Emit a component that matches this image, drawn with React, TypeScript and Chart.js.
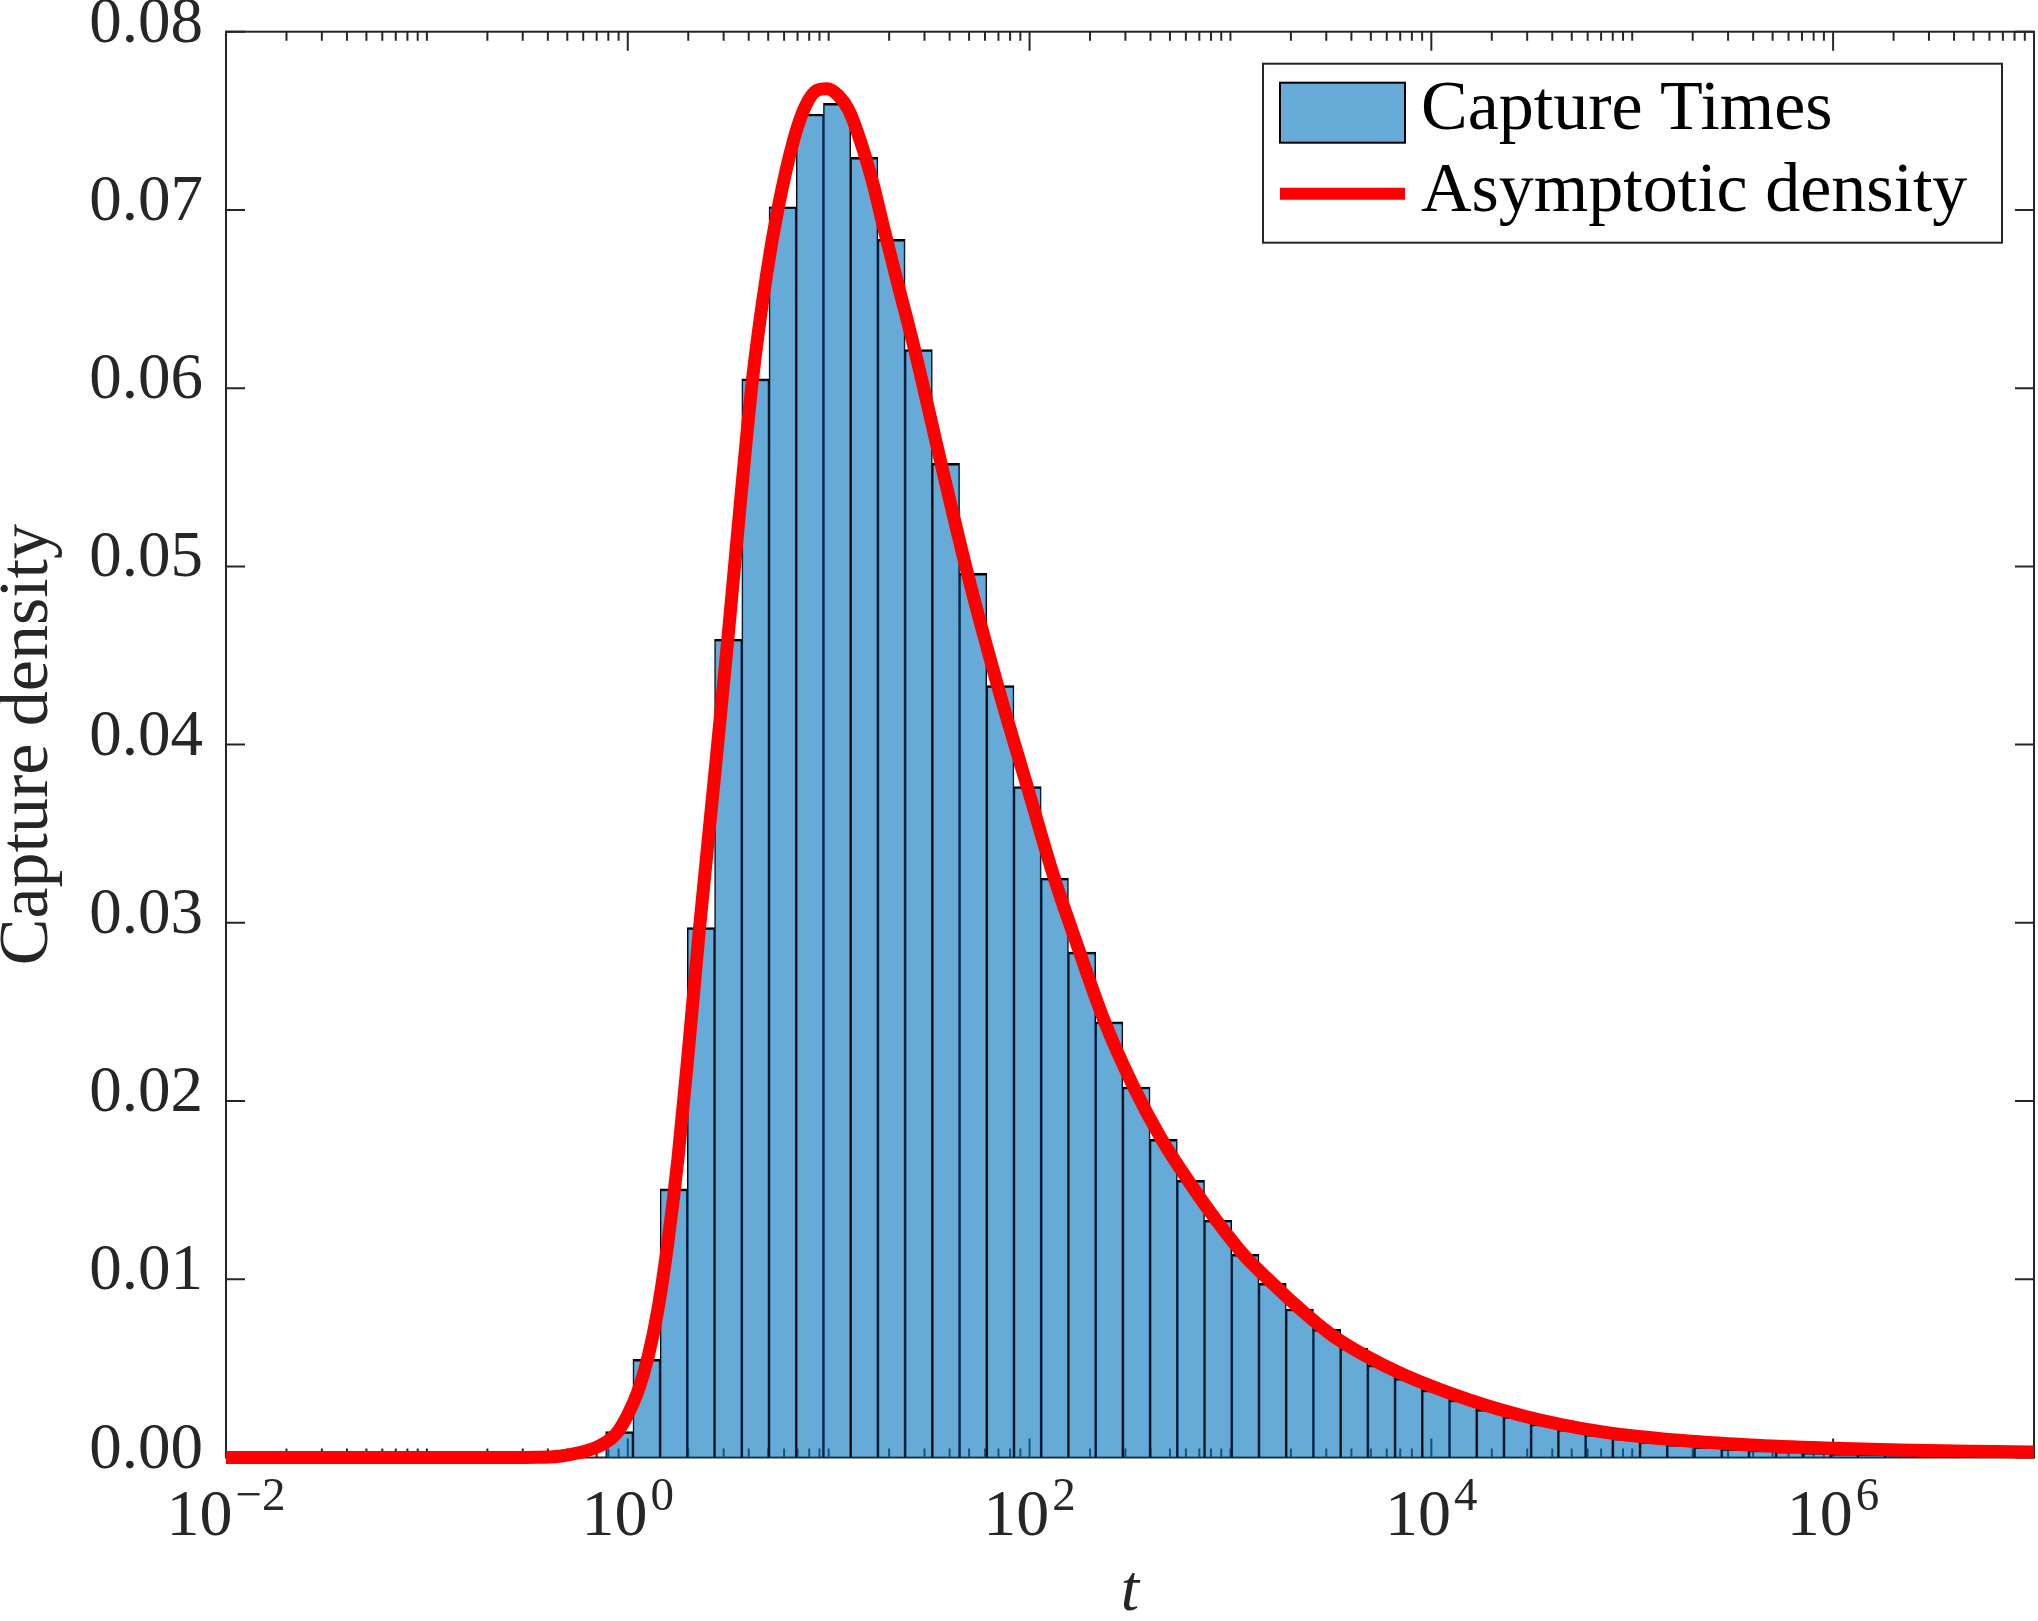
import React, { useEffect, useRef } from "react";
import { Chart, registerables } from "chart.js";

Chart.register(...registerables);

const CANVAS_W = 2038;
const CANVAS_H = 1621;

const seriesLabels = ["Capture Times", "Asymptotic density"];
const xTitle = "t";
const yTitle = "Capture density";

// histogram: log10 of each bin centre, and density of each bin
const binLog10Centers = [
  -0.0423, 0.0933, 0.2288, 0.3643, 0.4998, 0.6353, 0.7708, 0.9063, 1.0418, 1.1773,
  1.3128, 1.4483, 1.5838, 1.7193, 1.8548, 1.9903, 2.1258, 2.2613, 2.3968, 2.5323,
  2.6678, 2.8033, 2.9388, 3.0743, 3.2098, 3.3453, 3.4808, 3.6163, 3.7518, 3.8873,
  4.0228, 4.1583, 4.2938, 4.4293, 4.5648, 4.7003, 4.8358, 4.9713, 5.1068, 5.2423,
  5.3778, 5.5133, 5.6488, 5.7843, 5.9198, 6.0553, 6.1908, 6.3263, 6.4618,
];
const binDensity = [
  0.00145, 0.00551, 0.01507, 0.02973, 0.04591, 0.06052, 0.07018, 0.07538, 0.07598, 0.07295,
  0.06835, 0.06216, 0.05578, 0.04961, 0.04331, 0.03764, 0.0325, 0.02836, 0.02444, 0.02079,
  0.01785, 0.01555, 0.01331, 0.0114, 0.00977, 0.00833, 0.00719, 0.00613, 0.00519, 0.00444,
  0.00379, 0.00323, 0.0027, 0.00229, 0.00188, 0.00158, 0.0013, 0.00108, 0.00089, 0.00074,
  0.00061, 0.0005, 0.00042, 0.00035, 0.00028, 0.00022, 0.00017, 0.00013, 0.0001,
];

// asymptotic density curve: log10(t) and density
const curveLog10T = [
  -2.0, -1.0, -0.6, -0.45, -0.34, -0.25, -0.15, -0.06, 0.0, 0.05,
  0.1, 0.15, 0.2, 0.25, 0.3, 0.357, 0.43, 0.498, 0.56, 0.621,
  0.69, 0.75, 0.825, 0.883, 0.94, 0.991, 1.05, 1.1, 1.16, 1.22,
  1.276, 1.35, 1.427, 1.559, 1.691, 1.841, 2.0, 2.115, 2.248, 2.372,
  2.518, 2.655, 2.792, 2.93, 3.064, 3.216, 3.33, 3.514, 3.813, 4.095,
  4.469, 4.842, 5.216, 5.587, 5.96, 6.333, 6.706, 7.0,
];
const curveDensity = [
  0, 0, 0, 0.00001, 0.00007, 0.00025, 0.0006, 0.0013, 0.0024, 0.0037,
  0.0056, 0.0083, 0.0121, 0.0168, 0.0226, 0.0297, 0.038, 0.0459, 0.0535, 0.0605,
  0.0663, 0.0702, 0.0739, 0.0758, 0.0767, 0.0768, 0.0764, 0.0756, 0.0738, 0.0715,
  0.0689, 0.0656, 0.0622, 0.0558, 0.0496, 0.0433, 0.0372, 0.0328, 0.0284, 0.0245,
  0.0208, 0.0179, 0.0155, 0.0133, 0.0114, 0.0097, 0.0085, 0.0068, 0.0049, 0.0036,
  0.0023, 0.00145, 0.00098, 0.0007, 0.00053, 0.00042, 0.00035, 0.00031,
];

const yTickValues = [0, 0.01, 0.02, 0.03, 0.04, 0.05, 0.06, 0.07, 0.08];
const xTickExponents = [-2, 0, 2, 4, 6];
const xMin = 1e-2;
const xMax = 1e7;
const yMin = 0;
const yMax = 0.08;

const FONT = "'Liberation Serif', 'Times New Roman', serif";
const AXIS_COLOR = "#262626";
const BAR_FILL = "rgba(0,114,189,0.6)";
const BAR_EDGE = "#000000";
const CURVE_COLOR = "#ff0000";
const MAJOR_TICK = 19;
const MINOR_TICK = 9;

const matlabAxes = {
  id: "matlabAxes",
  beforeDatasetsDraw(chart: any) {
    const { ctx, chartArea } = chart;
    const { left, right, top, bottom } = chartArea;
    const xs = chart.scales.x;
    const ys = chart.scales.y;
    ctx.save();
    ctx.strokeStyle = AXIS_COLOR;
    ctx.lineWidth = 2;
    ctx.beginPath();
    const e0 = Math.round(Math.log10(xMin));
    const e1 = Math.round(Math.log10(xMax));
    for (let e = e0; e < e1; e++) {
      for (let m = 1; m <= 9; m++) {
        const v = m * Math.pow(10, e);
        const px = xs.getPixelForValue(v);
        const len = m === 1 && xTickExponents.includes(e) ? MAJOR_TICK : MINOR_TICK;
        ctx.moveTo(px, bottom);
        ctx.lineTo(px, bottom - len);
        ctx.moveTo(px, top);
        ctx.lineTo(px, top + len);
      }
    }
    for (const v of yTickValues) {
      const py = ys.getPixelForValue(v);
      ctx.moveTo(left, py);
      ctx.lineTo(left + MAJOR_TICK, py);
      ctx.moveTo(right, py);
      ctx.lineTo(right - MAJOR_TICK, py);
    }
    ctx.stroke();
    ctx.strokeRect(left, top, right - left, bottom - top);
    ctx.restore();
  },
  afterDraw(chart: any) {
    const { ctx, chartArea } = chart;
    const { right, top, bottom } = chartArea;
    const xs = chart.scales.x;
    ctx.save();
    // x tick labels with superscript exponents
    ctx.fillStyle = AXIS_COLOR;
    ctx.textBaseline = "alphabetic";
    ctx.textAlign = "left";
    for (const e of xTickExponents) {
      const px = xs.getPixelForValue(Math.pow(10, e));
      const base = "10";
      const sup = e < 0 ? "\u2212" + Math.abs(e) : String(e);
      ctx.font = `66px ${FONT}`;
      const wb = ctx.measureText(base).width;
      ctx.font = `47px ${FONT}`;
      const ws = ctx.measureText(sup).width;
      const gap = 3;
      const x0 = px - (wb + gap + ws) / 2;
      ctx.font = `66px ${FONT}`;
      ctx.fillText(base, x0, bottom + 77.5);
      ctx.font = `47px ${FONT}`;
      ctx.fillText(sup, x0 + wb + gap, bottom + 52.5);
    }

    // legend
    const bw = 739;
    const bh = 179;
    const lx = right - 32 - bw;
    const ly = top + 32;
    ctx.fillStyle = "#ffffff";
    ctx.fillRect(lx, ly, bw, bh);
    ctx.strokeStyle = AXIS_COLOR;
    ctx.lineWidth = 2;
    ctx.strokeRect(lx, ly, bw, bh);

    const barDs = chart.data.datasets[0];
    const lineDs = chart.data.datasets[1];
    ctx.fillStyle = barDs.backgroundColor;
    ctx.fillRect(lx + 17, ly + 19, 125, 60);
    ctx.strokeStyle = barDs.borderColor;
    ctx.lineWidth = 2;
    ctx.strokeRect(lx + 17, ly + 19, 125, 60);

    ctx.strokeStyle = lineDs.borderColor;
    ctx.lineWidth = 12;
    ctx.lineCap = "butt";
    ctx.beginPath();
    ctx.moveTo(lx + 17, ly + 130);
    ctx.lineTo(lx + 142, ly + 130);
    ctx.stroke();

    ctx.fillStyle = "#000000";
    ctx.font = `70px ${FONT}`;
    ctx.textAlign = "left";
    ctx.textBaseline = "alphabetic";
    ctx.fillText(barDs.label, lx + 158, ly + 65);
    ctx.fillText(lineDs.label, lx + 158, ly + 147);
    ctx.restore();
  },
};

export default function App() {
  const canvasRef = useRef<HTMLCanvasElement | null>(null);

  useEffect(() => {
    const canvas = canvasRef.current;
    if (!canvas) return;
    const chart = new Chart(canvas, {
      type: "bar",
      data: {
        datasets: [
          {
            type: "bar",
            label: seriesLabels[0],
            data: binLog10Centers.map((l, i) => ({ x: Math.pow(10, l), y: binDensity[i] })),
            backgroundColor: BAR_FILL,
            borderColor: BAR_EDGE,
            borderWidth: { left: 1, right: 1, top: 2, bottom: 0 },
            borderSkipped: "start",
            barPercentage: 1,
            categoryPercentage: 1,
            barThickness: "flex",
            order: 1,
          } as any,
          {
            type: "line",
            label: seriesLabels[1],
            data: curveLog10T.map((l, i) => ({ x: Math.pow(10, l), y: curveDensity[i] })),
            borderColor: CURVE_COLOR,
            backgroundColor: CURVE_COLOR,
            borderWidth: 13,
            pointRadius: 0,
            fill: false,
            cubicInterpolationMode: "monotone",
            borderCapStyle: "butt",
            borderJoinStyle: "round",
            clip: false,
            order: 0,
          } as any,
        ],
      },
      options: {
        responsive: false,
        animation: false,
        events: [],
        layout: {
          autoPadding: false,
          padding: { top: 31.7, right: 4, bottom: 0, left: 0 },
        },
        plugins: {
          legend: { display: false },
          tooltip: { enabled: false },
        },
        scales: {
          x: {
            type: "logarithmic",
            min: xMin,
            max: xMax,
            grid: { display: false, drawTicks: false },
            border: { display: false },
            ticks: { display: false },
            afterBuildTicks: (s: any) => {
              s.ticks = xTickExponents.map((e) => ({ value: Math.pow(10, e) }));
            },
            afterFit: (s: any) => {
              s.height = CANVAS_H - 1457.5;
              s.paddingLeft = 0;
              s.paddingRight = 0;
            },
            title: {
              display: true,
              text: xTitle,
              color: AXIS_COLOR,
              padding: 0,
              font: { family: FONT, size: 66, style: "italic", lineHeight: 0.86 },
            },
          },
          y: {
            type: "linear",
            min: yMin,
            max: yMax,
            grid: { display: false, drawTicks: false },
            border: { display: false },
            afterBuildTicks: (s: any) => {
              s.ticks = yTickValues.map((v) => ({ value: v }));
            },
            ticks: {
              color: AXIS_COLOR,
              padding: 23,
              labelOffset: -7,
              font: { family: FONT, size: 65 },
              callback: (value: any) => Number(value).toFixed(2),
            },
            afterFit: (s: any) => {
              s.width = 226;
              s.paddingTop = 0;
              s.paddingBottom = 0;
            },
            title: {
              display: true,
              text: yTitle,
              color: AXIS_COLOR,
              padding: 0,
              font: { family: FONT, size: 70, lineHeight: 0.82 },
            },
          },
        },
      } as any,
      plugins: [matlabAxes],
    });
    return () => {
      chart.destroy();
    };
  }, []);

  return (
    <div style={{ position: "fixed", left: 0, top: 0, width: CANVAS_W, height: CANVAS_H, background: "#fff" }}>
      <canvas ref={canvasRef} width={CANVAS_W} height={CANVAS_H} style={{ display: "block" }} />
    </div>
  );
}
